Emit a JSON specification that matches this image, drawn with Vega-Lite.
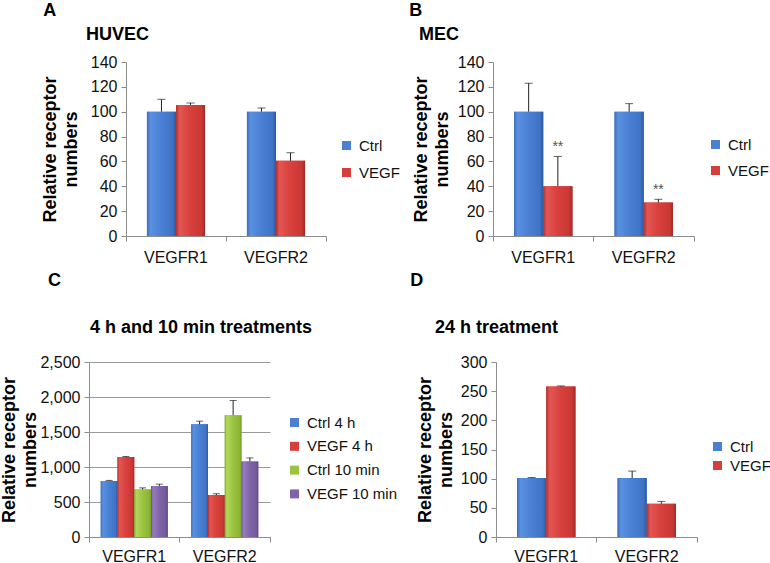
{
  "$schema": "https://vega.github.io/schema/vega-lite/v6.json",
  "padding": {"top": 2, "left": 0, "right": 0, "bottom": 0},
  "background": "white",
  "datasets": {
    "A": [
      {"receptor": "VEGFR1", "group": "Ctrl", "value": 100, "upper": 110, "sig": ""},
      {"receptor": "VEGFR1", "group": "VEGF", "value": 105.5, "upper": 107, "sig": ""},
      {"receptor": "VEGFR2", "group": "Ctrl", "value": 100, "upper": 103, "sig": ""},
      {"receptor": "VEGFR2", "group": "VEGF", "value": 60.5, "upper": 67, "sig": ""}
    ],
    "B": [
      {"receptor": "VEGFR1", "group": "Ctrl", "value": 100, "upper": 123, "sig": ""},
      {"receptor": "VEGFR1", "group": "VEGF", "value": 40, "upper": 64, "sig": "**"},
      {"receptor": "VEGFR2", "group": "Ctrl", "value": 100, "upper": 106.5, "sig": ""},
      {"receptor": "VEGFR2", "group": "VEGF", "value": 27, "upper": 29.5, "sig": "**"}
    ],
    "C": [
      {"receptor": "VEGFR1", "group": "Ctrl 4 h", "value": 800, "upper": 808},
      {"receptor": "VEGFR1", "group": "VEGF 4 h", "value": 1143, "upper": 1150},
      {"receptor": "VEGFR1", "group": "Ctrl 10 min", "value": 680, "upper": 702},
      {"receptor": "VEGFR1", "group": "VEGF 10 min", "value": 730, "upper": 755},
      {"receptor": "VEGFR2", "group": "Ctrl 4 h", "value": 1610, "upper": 1655},
      {"receptor": "VEGFR2", "group": "VEGF 4 h", "value": 600, "upper": 618},
      {"receptor": "VEGFR2", "group": "Ctrl 10 min", "value": 1740, "upper": 1950},
      {"receptor": "VEGFR2", "group": "VEGF 10 min", "value": 1080, "upper": 1130}
    ],
    "D": [
      {"receptor": "VEGFR1", "group": "Ctrl", "value": 101, "upper": 102},
      {"receptor": "VEGFR1", "group": "VEGF", "value": 258, "upper": 259},
      {"receptor": "VEGFR2", "group": "Ctrl", "value": 101, "upper": 113},
      {"receptor": "VEGFR2", "group": "VEGF", "value": 57, "upper": 61}
    ]
  },
  "concat": [
    {
      "concat": [
        {
          "title": {"text": "A", "anchor": "start", "frame": "bounds", "dx": 2, "offset": 6},
          "vconcat": [
            {
              "title": {"text": "HUVEC", "anchor": "start", "frame": "group", "dx": -40, "offset": 10},
              "width": 200, "height": 174,
              "data": {"name": "A"},
              "encoding": {
                "x": {"field": "receptor", "type": "nominal", "scale": {"paddingInner": 0, "paddingOuter": 0}, "axis": {"title": null}},
                "xOffset": {"field": "group", "type": "nominal", "sort": ["Ctrl", "VEGF"], "scale": {"paddingOuter": 0.72, "paddingInner": 0}},
                "y": {"field": "value", "type": "quantitative", "scale": {"domain": [0, 140], "nice": false}, "axis": {"title": ["Relative receptor", "numbers"], "values": [0, 20, 40, 60, 80, 100, 120, 140], "format": "d", "labelOverlap": false, "titlePadding": 10}}
              },
              "layer": [
                {
                  "mark": {"type": "bar"},
                  "encoding": {
                    "color": {"field": "group", "type": "nominal", "scale": {"domain": ["Ctrl", "VEGF"], "range": ["#4A7FD2", "#D53F3B"]}, "legend": {"orient": "none", "legendX": 213, "legendY": 76, "rowPadding": 11}}
                  }
                },
                {
                  "mark": {"type": "bar"},
                  "encoding": {
                    "color": {
                      "condition": {"test": "datum.group === 'Ctrl'", "value": {"gradient": "linear", "x1": 0, "x2": 1, "y1": 0, "y2": 0, "stops": [{"offset": 0, "color": "#3C6DBA"}, {"offset": 0.12, "color": "#5A90E0"}, {"offset": 0.5, "color": "#4A80D4"}, {"offset": 0.88, "color": "#3F73C5"}, {"offset": 1, "color": "#2D5A9F"}]}},
                      "value": {"gradient": "linear", "x1": 0, "x2": 1, "y1": 0, "y2": 0, "stops": [{"offset": 0, "color": "#B3302D"}, {"offset": 0.12, "color": "#E35653"}, {"offset": 0.5, "color": "#D8403C"}, {"offset": 0.88, "color": "#C93834"}, {"offset": 1, "color": "#A02A27"}]}
                    }
                  }
                },
                {"mark": {"type": "rule", "color": "#222", "strokeWidth": 1}, "encoding": {"y2": {"field": "upper"}}},
                {"mark": {"type": "tick", "orient": "horizontal", "size": 8, "thickness": 1, "color": "#222"}, "encoding": {"y": {"field": "upper", "type": "quantitative"}}}
              ]
            }
          ],
          "resolve": {"scale": {"color": "independent", "xOffset": "independent"}}
        },
        {
          "title": {"text": "B", "anchor": "start", "frame": "bounds", "dx": -3, "offset": 6},
          "vconcat": [
            {
              "title": {"text": "MEC", "anchor": "start", "frame": "group", "dx": -74, "offset": 10},
              "width": 201, "height": 174,
              "data": {"name": "B"},
              "encoding": {
                "x": {"field": "receptor", "type": "nominal", "scale": {"paddingInner": 0, "paddingOuter": 0}, "axis": {"title": null}},
                "xOffset": {"field": "group", "type": "nominal", "sort": ["Ctrl", "VEGF"], "scale": {"paddingOuter": 0.72, "paddingInner": 0}},
                "y": {"field": "value", "type": "quantitative", "scale": {"domain": [0, 140], "nice": false}, "axis": {"title": ["Relative receptor", "numbers"], "values": [0, 20, 40, 60, 80, 100, 120, 140], "format": "d", "labelOverlap": false, "titlePadding": 6}}
              },
              "layer": [
                {
                  "mark": {"type": "bar"},
                  "encoding": {
                    "color": {"field": "group", "type": "nominal", "scale": {"domain": ["Ctrl", "VEGF"], "range": ["#4A7FD2", "#D53F3B"]}, "legend": {"orient": "none", "legendX": 215, "legendY": 75, "rowPadding": 10}}
                  }
                },
                {
                  "mark": {"type": "bar"},
                  "encoding": {
                    "color": {
                      "condition": {"test": "datum.group === 'Ctrl'", "value": {"gradient": "linear", "x1": 0, "x2": 1, "y1": 0, "y2": 0, "stops": [{"offset": 0, "color": "#3C6DBA"}, {"offset": 0.12, "color": "#5A90E0"}, {"offset": 0.5, "color": "#4A80D4"}, {"offset": 0.88, "color": "#3F73C5"}, {"offset": 1, "color": "#2D5A9F"}]}},
                      "value": {"gradient": "linear", "x1": 0, "x2": 1, "y1": 0, "y2": 0, "stops": [{"offset": 0, "color": "#B3302D"}, {"offset": 0.12, "color": "#E35653"}, {"offset": 0.5, "color": "#D8403C"}, {"offset": 0.88, "color": "#C93834"}, {"offset": 1, "color": "#A02A27"}]}
                    }
                  }
                },
                {"mark": {"type": "rule", "color": "#222", "strokeWidth": 1}, "encoding": {"y2": {"field": "upper"}}},
                {"mark": {"type": "tick", "orient": "horizontal", "size": 8, "thickness": 1, "color": "#222"}, "encoding": {"y": {"field": "upper", "type": "quantitative"}}},
                {"mark": {"type": "text", "dy": -2, "fontSize": 14, "color": "#555", "baseline": "bottom"}, "encoding": {"y": {"field": "upper", "type": "quantitative"}, "text": {"field": "sig"}}}
              ]
            }
          ],
          "resolve": {"scale": {"color": "independent", "xOffset": "independent"}}
        }
      ],
      "columns": 2,
      "align": "none",
      "spacing": 9,
      "resolve": {"scale": {"color": "independent", "xOffset": "independent"}}
    },
    {
      "concat": [
        {
          "title": {"text": "C", "anchor": "start", "frame": "bounds", "dx": 47, "offset": 29},
          "vconcat": [
            {
              "title": {"text": "4 h and 10 min treatments", "anchor": "start", "frame": "group", "dx": 1, "offset": 17},
              "width": 181, "height": 175,
              "data": {"name": "C"},
              "encoding": {
                "x": {"field": "receptor", "type": "nominal", "scale": {"paddingInner": 0, "paddingOuter": 0}, "axis": {"title": null, "labelPadding": 6}},
                "xOffset": {"field": "group", "type": "nominal", "sort": ["Ctrl 4 h", "VEGF 4 h", "Ctrl 10 min", "VEGF 10 min"], "scale": {"paddingOuter": 0.7, "paddingInner": 0}},
                "y": {"field": "value", "type": "quantitative", "scale": {"domain": [0, 2500], "nice": false}, "axis": {"title": ["Relative receptor", "numbers"], "values": [0, 500, 1000, 1500, 2000, 2500], "format": ",d", "labelOverlap": false, "grid": true, "gridColor": "#9a9a9a", "titlePadding": 0}}
              },
              "layer": [
                {
                  "mark": {"type": "bar"},
                  "encoding": {
                    "color": {"field": "group", "type": "nominal", "scale": {"domain": ["Ctrl 4 h", "VEGF 4 h", "Ctrl 10 min", "VEGF 10 min"], "range": ["#4A7FD2", "#D53F3B", "#9BC440", "#8064A9"]}, "legend": {"orient": "none", "legendX": 198, "legendY": 53, "rowPadding": 7.8}}
                  }
                },
                {
                  "mark": {"type": "bar"},
                  "encoding": {
                    "color": {
                      "condition": [
                        {"test": "datum.group === 'Ctrl 4 h'", "value": {"gradient": "linear", "x1": 0, "x2": 1, "y1": 0, "y2": 0, "stops": [{"offset": 0, "color": "#3C6DBA"}, {"offset": 0.12, "color": "#5A90E0"}, {"offset": 0.5, "color": "#4A80D4"}, {"offset": 0.88, "color": "#3F73C5"}, {"offset": 1, "color": "#2D5A9F"}]}},
                        {"test": "datum.group === 'VEGF 4 h'", "value": {"gradient": "linear", "x1": 0, "x2": 1, "y1": 0, "y2": 0, "stops": [{"offset": 0, "color": "#B3302D"}, {"offset": 0.12, "color": "#E35653"}, {"offset": 0.5, "color": "#D8403C"}, {"offset": 0.88, "color": "#C93834"}, {"offset": 1, "color": "#A02A27"}]}},
                        {"test": "datum.group === 'Ctrl 10 min'", "value": {"gradient": "linear", "x1": 0, "x2": 1, "y1": 0, "y2": 0, "stops": [{"offset": 0, "color": "#80A52F"}, {"offset": 0.12, "color": "#B2D75C"}, {"offset": 0.5, "color": "#9BC440"}, {"offset": 0.88, "color": "#8DB536"}, {"offset": 1, "color": "#789C2B"}]}}
                      ],
                      "value": {"gradient": "linear", "x1": 0, "x2": 1, "y1": 0, "y2": 0, "stops": [{"offset": 0, "color": "#6A5091"}, {"offset": 0.12, "color": "#967CBF"}, {"offset": 0.5, "color": "#8064A9"}, {"offset": 0.88, "color": "#735A9B"}, {"offset": 1, "color": "#5E4786"}]}
                    }
                  }
                },
                {"mark": {"type": "rule", "color": "#222", "strokeWidth": 1}, "encoding": {"y2": {"field": "upper"}}},
                {"mark": {"type": "tick", "orient": "horizontal", "size": 7, "thickness": 1, "color": "#222"}, "encoding": {"y": {"field": "upper", "type": "quantitative"}}}
              ]
            }
          ],
          "resolve": {"scale": {"color": "independent", "xOffset": "independent"}}
        },
        {
          "title": {"text": "D", "anchor": "start", "frame": "bounds", "dx": -6, "offset": 29},
          "vconcat": [
            {
              "title": {"text": "24 h treatment", "anchor": "start", "frame": "group", "dx": -61, "offset": 17},
              "width": 201, "height": 175,
              "data": {"name": "D"},
              "encoding": {
                "x": {"field": "receptor", "type": "nominal", "scale": {"paddingInner": 0, "paddingOuter": 0}, "axis": {"title": null, "labelPadding": 6}},
                "xOffset": {"field": "group", "type": "nominal", "sort": ["Ctrl", "VEGF"], "scale": {"paddingOuter": 0.72, "paddingInner": 0}},
                "y": {"field": "value", "type": "quantitative", "scale": {"domain": [0, 300], "nice": false}, "axis": {"title": ["Relative receptor", "numbers"], "values": [0, 50, 100, 150, 200, 250, 300], "format": "d", "labelOverlap": false, "titlePadding": 5}}
              },
              "layer": [
                {
                  "mark": {"type": "bar"},
                  "encoding": {
                    "color": {"field": "group", "type": "nominal", "scale": {"domain": ["Ctrl", "VEGF"], "range": ["#4A7FD2", "#D53F3B"]}, "legend": {"orient": "none", "legendX": 179, "legendY": 42, "rowPadding": 3, "padding": 35}}
                  }
                },
                {
                  "mark": {"type": "bar"},
                  "encoding": {
                    "color": {
                      "condition": {"test": "datum.group === 'Ctrl'", "value": {"gradient": "linear", "x1": 0, "x2": 1, "y1": 0, "y2": 0, "stops": [{"offset": 0, "color": "#3C6DBA"}, {"offset": 0.12, "color": "#5A90E0"}, {"offset": 0.5, "color": "#4A80D4"}, {"offset": 0.88, "color": "#3F73C5"}, {"offset": 1, "color": "#2D5A9F"}]}},
                      "value": {"gradient": "linear", "x1": 0, "x2": 1, "y1": 0, "y2": 0, "stops": [{"offset": 0, "color": "#B3302D"}, {"offset": 0.12, "color": "#E35653"}, {"offset": 0.5, "color": "#D8403C"}, {"offset": 0.88, "color": "#C93834"}, {"offset": 1, "color": "#A02A27"}]}
                    }
                  }
                },
                {"mark": {"type": "rule", "color": "#222", "strokeWidth": 1}, "encoding": {"y2": {"field": "upper"}}},
                {"mark": {"type": "tick", "orient": "horizontal", "size": 8, "thickness": 1, "color": "#222"}, "encoding": {"y": {"field": "upper", "type": "quantitative"}}}
              ]
            }
          ],
          "resolve": {"scale": {"color": "independent", "xOffset": "independent"}}
        }
      ],
      "columns": 2,
      "align": "none",
      "spacing": 12,
      "resolve": {"scale": {"color": "independent", "xOffset": "independent"}}
    }
  ],
  "columns": 1,
  "center": true,
  "spacing": 7,
  "resolve": {"scale": {"color": "independent", "xOffset": "independent"}},
  "config": {
    "font": "Liberation Sans",
    "view": {"stroke": null},
    "title": {"fontSize": 18, "fontWeight": "bold", "color": "#000", "baseline": "alphabetic", "font": "Liberation Sans"},
    "axis": {
      "domainColor": "#8c8c8c", "tickColor": "#8c8c8c", "tickSize": 5,
      "labelColor": "#111", "labelFontSize": 16, "labelFont": "Liberation Sans",
      "titleColor": "#000", "titleFontSize": 18, "titleFontWeight": "bold", "titleFont": "Liberation Sans", "titleLineHeight": 21,
      "grid": false
    },
    "axisX": {"labelAngle": 0, "bandPosition": 1, "tickExtra": true, "labelPadding": 8},
    "axisY": {"labelPadding": 4},
    "legend": {"title": null, "symbolType": "square", "symbolSize": 81, "symbolStrokeWidth": 0, "labelFontSize": 15, "labelColor": "#111", "labelFont": "Liberation Sans", "labelOffset": 5, "padding": 0}
  }
}
